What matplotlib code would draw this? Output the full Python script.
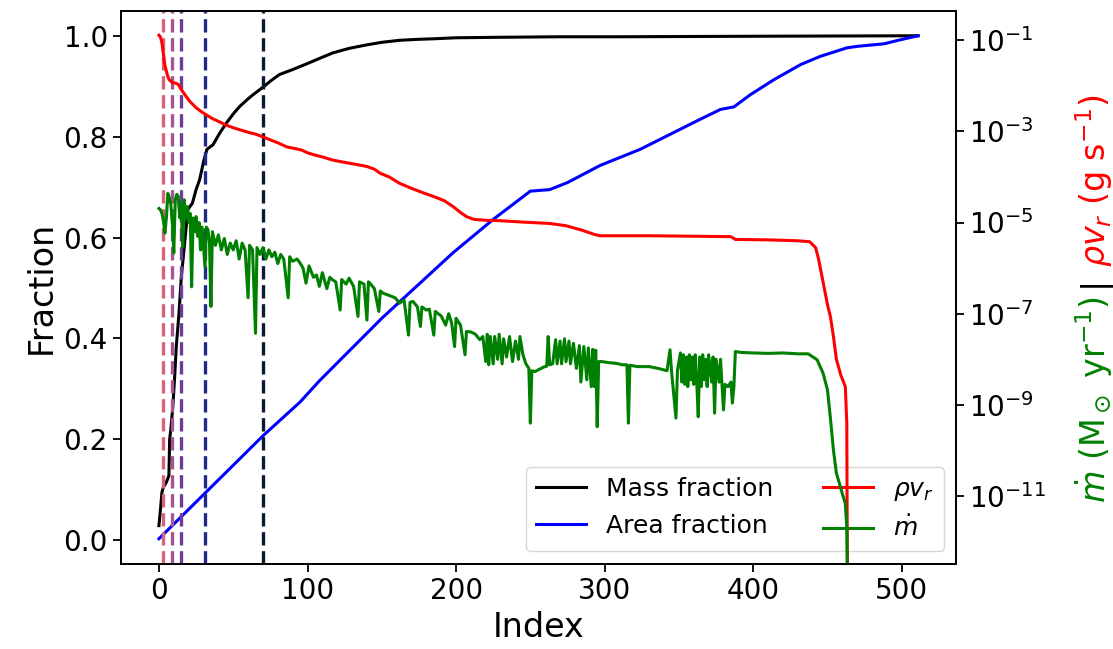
import numpy as np
import matplotlib.pyplot as plt
from matplotlib.ticker import FixedLocator, NullLocator

# mass / area fraction (left axis)
idx_mass = [0, 1, 2, 3, 5, 6.7, 7.2, 8, 9.4, 10.5, 11.7, 13.5, 15, 17, 19.5, 22.5, 25, 27.4, 30,
            32.3, 36.4, 40.9, 45.4, 50, 54.4, 60, 63.3, 70, 75, 81, 90, 95, 100, 108, 117, 128,
            140, 150, 162, 175, 185, 200, 230, 270, 310, 400, 511]
mass_frac = [0.029, 0.06, 0.095, 0.105, 0.115, 0.128, 0.20, 0.22, 0.267, 0.32, 0.385, 0.45, 0.52,
             0.58, 0.656, 0.668, 0.695, 0.715, 0.75, 0.775, 0.784, 0.807, 0.827, 0.845, 0.860,
             0.875, 0.883, 0.898, 0.91, 0.923, 0.933, 0.939, 0.945, 0.955, 0.966, 0.975, 0.982,
             0.987, 0.991, 0.993, 0.994, 0.996, 0.997, 0.998, 0.998, 0.999, 1.0]

idx_area = [0, 70, 95, 108, 150, 198, 225, 250, 263, 275, 297, 324, 364, 378, 387, 398, 414,
            432, 445, 463, 470, 488, 499, 511]
area_frac = [0.003, 0.207, 0.274, 0.316, 0.44, 0.570, 0.636, 0.692, 0.695, 0.709, 0.743, 0.775,
             0.834, 0.854, 0.859, 0.883, 0.913, 0.943, 0.959, 0.976, 0.979, 0.984, 0.992, 1.0]

# rho v_r (log10, g/s)
idx_rho = [0, 1, 2, 3, 4, 5, 6, 7, 9, 11, 13, 15, 18, 21, 25, 29, 32, 36, 40, 45, 50, 55, 60, 65,
           70, 76, 80, 86, 92, 96, 100, 105, 110, 117, 125, 132, 140, 145, 149, 155, 162, 170,
           178, 185, 192, 198, 203, 207, 212, 220, 230, 245, 263, 274, 285, 293, 297, 330, 360,
           385, 388, 410, 430, 438, 442, 444, 447, 450, 452, 454, 456, 459, 462, 463, 463.5]
rho_log = [-0.89, -0.93, -1.05, -1.3, -1.55, -1.68, -1.80, -1.87, -1.93, -1.94, -1.97, -2.08,
           -2.22, -2.35, -2.48, -2.58, -2.64, -2.72, -2.78, -2.86, -2.92, -2.97, -3.02, -3.06,
           -3.12, -3.20, -3.25, -3.34, -3.38, -3.41, -3.47, -3.52, -3.56, -3.63, -3.68, -3.72,
           -3.77, -3.83, -3.92, -4.0, -4.14, -4.25, -4.35, -4.43, -4.52, -4.65, -4.78, -4.87,
           -4.93, -4.95, -4.96, -4.99, -5.02, -5.07, -5.17, -5.26, -5.29, -5.29, -5.30, -5.31,
           -5.37, -5.38, -5.40, -5.42, -5.55, -5.8, -6.3, -6.8, -7.07, -7.5, -8.0, -8.35, -8.6,
           -9.4, -14]

# mdot (log10, Msun/yr)
idx_mdot = [0, 1, 2, 3, 4, 5, 6, 7, 8, 9, 10, 11, 12, 13, 14, 15, 16, 17, 18, 19, 20, 21, 22, 23,
            24, 25, 26, 27, 28, 29, 31, 32, 33, 34, 35, 36, 38, 40, 42, 44, 46, 48, 50, 52, 54,
            56, 58, 60, 61, 63, 65, 66, 68, 70, 72, 74, 76, 78, 80, 82, 84, 87, 88, 90, 93, 95,
            97, 99, 101, 104, 106, 108, 110, 113, 115, 117, 119, 122, 123, 126, 128, 131, 134,
            135, 138, 140, 141, 142, 145, 148, 149, 151, 155, 159, 162, 165, 168, 169, 171, 174,
            176, 177, 180, 182, 185, 186, 190, 193, 195, 197, 199, 200, 203, 206, 207, 210, 213,
            216, 218, 220, 221, 222, 223, 225, 226, 228, 229, 231, 232, 234, 236, 238, 240, 242,
            243, 245, 247, 249, 250, 251, 253, 256, 259, 261, 262, 263, 265, 267, 268, 270, 271,
            273, 274, 276, 277, 279, 281, 283, 284, 286, 288, 289, 291, 292, 293, 294, 295, 296,
            298, 302, 308, 312, 315, 316, 317, 322, 330, 336, 342, 344, 345, 348, 349, 351, 352,
            353, 354, 355, 356, 357, 358, 359, 360, 361, 362, 363, 364, 365, 366, 367, 368, 369,
            370, 372, 373, 374, 375, 377, 378, 380, 381, 383, 385, 386, 387, 388, 392, 400, 410,
            420, 430, 437, 443, 447, 450, 452, 454, 456, 458, 460, 462, 463, 464]
mdot_log = [-4.69, -4.72, -4.80, -4.95, -5.23, -4.90, -4.36, -4.45, -4.60, -5.0, -5.67, -4.50,
            -4.38, -4.43, -4.9, -4.6, -5.53, -4.5, -4.9, -4.65, -5.0, -4.8, -6.41, -4.9, -5.2,
            -4.87, -5.3, -5.0, -5.6, -5.1, -5.97, -5.1, -5.16, -5.4, -6.84, -5.2, -5.5, -5.27,
            -5.6, -5.35, -5.7, -5.45, -5.6, -5.4, -5.8, -5.45, -5.6, -6.65, -5.5, -5.6, -7.43,
            -5.55, -5.7, -5.55, -5.8, -5.6, -5.75, -5.65, -5.9, -5.7, -5.8, -6.65, -5.75, -5.85,
            -5.8, -5.89, -6.0, -6.33, -5.95, -6.2, -6.15, -6.4, -6.1, -6.45, -6.2, -6.26, -6.3,
            -6.92, -6.25, -6.35, -6.22, -6.4, -7.06, -6.3, -6.35, -7.14, -6.3, -6.33, -6.45,
            -6.95, -6.5, -6.55, -6.6, -6.65, -6.77, -6.7, -7.47, -6.75, -6.73, -6.85, -7.28,
            -6.85, -6.92, -6.9, -7.47, -6.95, -7.05, -7.25, -7.0, -7.2, -7.72, -7.1, -7.25, -7.90,
            -7.39, -7.4, -7.45, -7.57, -7.5, -8.05, -7.45, -8.12, -7.5, -8.1, -7.5, -8.0, -7.45,
            -8.1, -7.55, -7.95, -7.5, -8.05, -7.6, -8.0, -7.50, -7.9, -8.1, -8.2, -9.40, -8.25,
            -8.27, -8.22, -8.17, -8.15, -7.50, -8.12, -8.1, -7.57, -8.1, -7.6, -8.1, -7.55, -8.05,
            -7.6, -8.1, -7.65, -8.2, -7.7, -8.5, -7.72, -8.45, -7.75, -8.6, -7.78, -8.6, -7.8,
            -9.48, -8.05, -8.05, -8.07, -8.09, -8.12, -8.12, -9.40, -8.13, -8.16, -8.16, -8.2,
            -8.25, -7.79, -8.25, -9.29, -8.25, -7.86, -8.5, -7.9, -8.55, -7.95, -8.6, -7.9, -8.45,
            -7.95, -8.55, -7.9, -8.5, -9.26, -7.95, -8.6, -7.9, -8.45, -8.0, -8.6, -7.9, -8.5,
            -7.95, -9.18, -8.0, -8.5, -8.0, -9.11, -8.55, -8.6, -8.5, -8.96, -8.6, -7.83, -7.85,
            -7.86, -7.87, -7.86, -7.88, -7.88, -8.01, -8.3, -8.67, -9.3, -9.99, -10.5, -10.72,
            -10.95, -11.16, -11.67, -14]

# vertical markers
cut_idx = [3, 9, 15, 31, 70]
cut_colors = ['#d6637a', '#a35690', '#6b3d99', '#1f2a8a', '#0c1a33']

fig, ax1 = plt.subplots(figsize=(11.13, 6.49), dpi=100)
fig.subplots_adjust(left=0.1087, right=0.859, bottom=0.131, top=0.983)

ax1.plot(idx_mass, mass_frac, color='black', lw=2.2, label='Mass fraction')
ax1.plot(idx_area, area_frac, color='blue', lw=2.2, label='Area fraction')
for xv, c in zip(cut_idx, cut_colors):
    ax1.axvline(xv, color=c, ls=(0, (4, 1.7)), lw=2.4)

ax2 = ax1.twinx()
ax2.plot(idx_rho, 10 ** np.array(rho_log), color='red', lw=2.2, label=r'$\rho v_r$')
ax2.plot(idx_mdot, 10 ** np.array(mdot_log), color='green', lw=2.2, label=r'$\dot{m}$')
ax2.set_yscale('log')
ax2.set_ylim(10 ** -12.49, 10 ** -0.36)
ax2.yaxis.set_major_locator(FixedLocator([1e-1, 1e-3, 1e-5, 1e-7, 1e-9, 1e-11]))
ax2.yaxis.set_minor_locator(NullLocator())

ax1.set_xlim(-25.55, 536.55)
ax1.set_ylim(-0.047, 1.049)
ax1.set_xlabel('Index', fontsize=24)
ax1.set_ylabel('Fraction', fontsize=24)

for ax in (ax1, ax2):
    ax.tick_params(labelsize=20, length=6, width=1.3)
    for s in ax.spines.values():
        s.set_linewidth(1.3)

h1, l1 = ax1.get_legend_handles_labels()
h2, l2 = ax2.get_legend_handles_labels()
ax1.legend(h1 + h2, l1 + l2, loc='lower right', ncol=2, fontsize=18)

# right label in three colours, stacked bottom to top
fig.canvas.draw()
r = fig.canvas.get_renderer()
parts = [(r'$\dot{m}$ (M$_\odot$ yr$^{-1}$)', 'green'), ('|', 'black'),
         (r'$\rho v_r$ (g s$^{-1}$)', 'red')]
texts = [fig.text(0.983, 0, s, color=c, fontsize=24, rotation=90, ha='center', va='bottom')
         for s, c in parts]
gap = 9
hs = [t.get_window_extent(r).height for t in texts]
total = sum(hs) + gap * (len(hs) - 1)
y = (649 - 299) - total / 2
for t, h in zip(texts, hs):
    t.set_y(y / 649)
    y += h + gap

fig.savefig('out.png', dpi=100)
